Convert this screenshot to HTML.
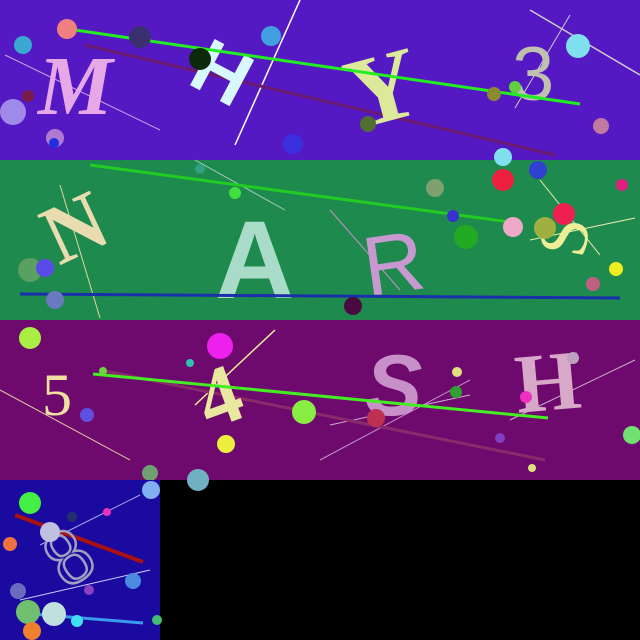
<!DOCTYPE html>
<html><head><meta charset="utf-8"><style>
html,body{margin:0;padding:0;background:#000;width:640px;height:640px;overflow:hidden}
</style></head><body>
<svg width="640" height="640" viewBox="0 0 640 640">
<rect width="640" height="640" fill="#000"/>
<g>
<rect x="0" y="0" width="640" height="160" fill="#5519c4"/>
<line x1="5" y1="55" x2="160" y2="130" stroke="#c8a0e8" stroke-width="1"/>
<line x1="235" y1="145" x2="300" y2="0" stroke="#fff" stroke-width="1.5"/>
<line x1="530" y1="10" x2="640" y2="75" stroke="#cccccc" stroke-width="1.5"/>
<line x1="515" y1="108" x2="570" y2="15" stroke="#cccccc" stroke-width="1"/>
<line x1="85" y1="45" x2="555" y2="155" stroke="#6a1a70" stroke-width="3"/>
<text x="38" y="114" font-size="84" fill="#e6a8e6" style="font-family:'Liberation Serif',serif;font-weight:bold;font-style:italic">M</text>
<text x="195" y="105" font-size="76" fill="#d8f8ff" style="font-family:'Liberation Sans',sans-serif;font-weight:bold" transform="rotate(28 235 75)">H</text>
<text x="345" y="118" font-size="100" fill="#dce89a" style="font-family:'Liberation Serif',serif;font-weight:bold" transform="rotate(-15 395 80)">Y</text>
<text x="512" y="100" font-size="76" fill="#c0c0b0" style="font-family:'Liberation Sans',sans-serif">3</text>
<line x1="75" y1="30" x2="580" y2="104" stroke="#22ee22" stroke-width="3"/>
<circle cx="67" cy="29" r="10" fill="#f08080"/><circle cx="23" cy="45" r="9" fill="#3aa8d0"/>
<circle cx="13" cy="112" r="13" fill="#a08ae8"/><circle cx="28" cy="96" r="6" fill="#7a1a4a"/>
<circle cx="55" cy="138" r="9" fill="#b07ad0"/><circle cx="54" cy="143" r="5" fill="#2030e0"/>
<circle cx="140" cy="37" r="11" fill="#3a3070"/><circle cx="200" cy="59" r="11" fill="#0a2a0a"/>
<circle cx="271" cy="36" r="10" fill="#40a0e0"/><circle cx="293" cy="144" r="10" fill="#3a30e0"/>
<circle cx="368" cy="124" r="8" fill="#507030"/><circle cx="494" cy="94" r="7" fill="#8a8a30"/>
<circle cx="515" cy="87" r="6" fill="#60d040"/><circle cx="578" cy="46" r="12" fill="#80e0f0"/>
<circle cx="601" cy="126" r="8" fill="#c07aa0"/>
</g>
<g>
<rect x="0" y="160" width="640" height="160" fill="#1e8a4e"/>
<line x1="195" y1="160" x2="285" y2="210" stroke="#aaccc0" stroke-width="1"/>
<line x1="60" y1="185" x2="100" y2="318" stroke="#e0d8a0" stroke-width="1"/>
<line x1="330" y1="210" x2="400" y2="290" stroke="#c890c8" stroke-width="1"/>
<line x1="540" y1="180" x2="600" y2="255" stroke="#eeeeaa" stroke-width="1"/>
<line x1="530" y1="240" x2="635" y2="218" stroke="#eeeeaa" stroke-width="1"/>
<line x1="90" y1="165" x2="510" y2="222" stroke="#22cc22" stroke-width="3"/>
<text x="40" y="250" font-size="84" fill="#e8dcb0" style="font-family:'Liberation Serif',serif;font-weight:bold" transform="rotate(-25 85 215)">N</text>
<text x="215" y="298" font-size="110" fill="#a8dcc8" style="font-family:'Liberation Sans',sans-serif;font-weight:bold">A</text>
<text x="362" y="292" font-size="84" fill="#c898d0" style="font-family:'Liberation Sans',sans-serif" transform="rotate(-8 395 255)">R</text>
<text x="525" y="250" font-size="70" fill="#eeee99" style="font-family:'Liberation Serif',serif" transform="rotate(-80 560 220)">S</text>
<line x1="20" y1="294" x2="620" y2="298" stroke="#1a30aa" stroke-width="3"/>
<circle cx="30" cy="270" r="12" fill="#5aa060"/><circle cx="45" cy="268" r="9" fill="#5a4ae8"/>
<circle cx="55" cy="300" r="9" fill="#6a7ac0"/><circle cx="200" cy="169" r="5" fill="#30a080"/>
<circle cx="235" cy="193" r="6" fill="#40e040"/><circle cx="353" cy="306" r="9" fill="#4a0a40"/>
<circle cx="435" cy="188" r="9" fill="#80a070"/><circle cx="453" cy="216" r="6" fill="#3a30d0"/>
<circle cx="466" cy="237" r="12" fill="#22aa22"/><circle cx="503" cy="180" r="11" fill="#ee2040"/>
<circle cx="503" cy="157" r="9" fill="#80e0f0"/><circle cx="538" cy="170" r="9" fill="#3040d0"/>
<circle cx="513" cy="227" r="10" fill="#f0a8c8"/><circle cx="545" cy="228" r="11" fill="#a0b040"/>
<circle cx="564" cy="214" r="11" fill="#ee2050"/><circle cx="622" cy="185" r="6" fill="#e02080"/>
<circle cx="616" cy="269" r="7" fill="#eeee20"/><circle cx="593" cy="284" r="7" fill="#c06080"/>
</g>
<g>
<rect x="0" y="320" width="640" height="160" fill="#6e0a6e"/>
<line x1="0" y1="390" x2="130" y2="460" stroke="#e0c0a0" stroke-width="1"/>
<line x1="195" y1="405" x2="275" y2="330" stroke="#eeee99" stroke-width="1.5"/>
<line x1="320" y1="460" x2="470" y2="380" stroke="#c890c8" stroke-width="1"/>
<line x1="330" y1="425" x2="470" y2="395" stroke="#ccaacc" stroke-width="1"/>
<line x1="510" y1="420" x2="635" y2="360" stroke="#ccaacc" stroke-width="1"/>
<line x1="100" y1="370" x2="545" y2="460" stroke="#8a2a6a" stroke-width="3"/>
<text x="42" y="415" font-size="60" fill="#f0e0a0" style="font-family:'Liberation Serif',serif">5</text>
<text x="195" y="420" font-size="84" fill="#e8e8a0" style="font-family:'Liberation Serif',serif;font-weight:bold" transform="rotate(-20 230 385)">4</text>
<text x="365" y="415" font-size="86" fill="#c890c8" style="font-family:'Liberation Sans',sans-serif;font-weight:bold;font-style:italic">S</text>
<text x="515" y="410" font-size="84" fill="#d8a8c8" style="font-family:'Liberation Serif',serif;font-weight:bold" transform="rotate(-5 550 380)">H</text>
<line x1="93" y1="374" x2="548" y2="418" stroke="#44ee22" stroke-width="3"/>
<circle cx="30" cy="338" r="11" fill="#aaee44"/><circle cx="87" cy="415" r="7" fill="#6050e0"/>
<circle cx="103" cy="371" r="4" fill="#70d040"/><circle cx="190" cy="363" r="4" fill="#30c0b0"/>
<circle cx="220" cy="346" r="13" fill="#ee20ee"/><circle cx="226" cy="444" r="9" fill="#eeee40"/>
<circle cx="304" cy="412" r="12" fill="#88ee44"/><circle cx="376" cy="418" r="9" fill="#c03050"/>
<circle cx="457" cy="372" r="5" fill="#e0e080"/><circle cx="456" cy="392" r="6" fill="#30a030"/>
<circle cx="500" cy="438" r="5" fill="#8040c0"/><circle cx="526" cy="397" r="6" fill="#ee30c0"/>
<circle cx="532" cy="468" r="4" fill="#e0e080"/><circle cx="573" cy="358" r="6" fill="#c0a0c0"/>
<circle cx="632" cy="435" r="9" fill="#70e070"/><circle cx="150" cy="473" r="8" fill="#70a070"/>
<circle cx="198" cy="480" r="11" fill="#70b0c0"/>
</g>
<g>
<rect x="0" y="480" width="160" height="160" fill="#1a0aa0"/>
<line x1="40" y1="545" x2="140" y2="495" stroke="#aaaaee" stroke-width="1"/>
<line x1="20" y1="600" x2="150" y2="570" stroke="#ccccff" stroke-width="1"/>
<line x1="15" y1="515" x2="143" y2="562" stroke="#aa1010" stroke-width="4"/>
<text x="42" y="580" font-size="80" fill="none" stroke="#a0a0c0" stroke-width="2.5" style="font-family:'Liberation Serif',serif" transform="rotate(-35 70 545)">8</text>
<line x1="20" y1="613" x2="143" y2="623" stroke="#3a9aee" stroke-width="3"/>
<circle cx="30" cy="503" r="11" fill="#44ee44"/><circle cx="10" cy="544" r="7" fill="#ee7040"/>
<circle cx="50" cy="532" r="10" fill="#c0c0e0"/><circle cx="72" cy="517" r="5" fill="#20306a"/>
<circle cx="107" cy="512" r="4" fill="#ee30c0"/><circle cx="151" cy="490" r="9" fill="#80b0f0"/>
<circle cx="133" cy="581" r="8" fill="#4a8ae0"/><circle cx="89" cy="590" r="5" fill="#8a40c0"/>
<circle cx="18" cy="591" r="8" fill="#6a6ac0"/><circle cx="28" cy="612" r="12" fill="#70c070"/>
<circle cx="54" cy="614" r="12" fill="#c0e0e0"/><circle cx="77" cy="621" r="6" fill="#40e0f0"/>
<circle cx="32" cy="631" r="9" fill="#ee8030"/><circle cx="157" cy="620" r="5" fill="#40c070"/>
</g>
</svg>
</body></html>
